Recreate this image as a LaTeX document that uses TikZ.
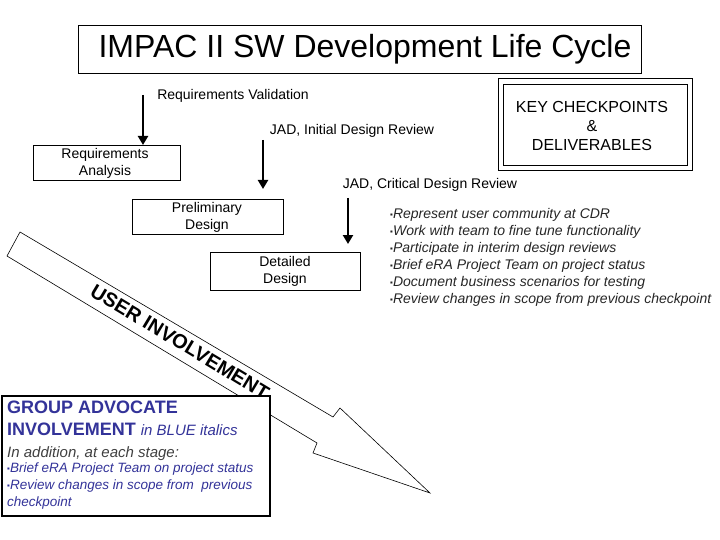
\documentclass[tikz,border=0pt]{standalone}
\usepackage{fontspec}
\setmainfont{Liberation Sans}
\usetikzlibrary{arrows.meta}
\definecolor{gablue}{RGB}{51,51,153}
\begin{document}
\begin{tikzpicture}[x=1pt,y=-1pt,
  box/.style={draw,fill=white,line width=0.8pt,inner sep=0pt},
  lab/.style={font=\fontsize{14}{17}\selectfont,inner sep=0pt},
  darr/.style={line width=2.5pt,-{Triangle[length=9pt,width=10pt]}},
  bl/.style={font=\fontsize{14}{17}\itshape\selectfont,inner sep=0pt,align=left,text=black!85}]
\useasboundingbox (0,0) rectangle (720,540);
% title
\draw[line width=0.8pt] (78,25) rectangle (641,73);
\node[inner sep=0pt,font=\fontsize{32}{34}\selectfont] (title) at (365,49) {IMPAC II SW Development Life Cycle};
% key checkpoints
\draw[line width=0.8pt] (498,78) rectangle (692,170);
\draw[line width=0.8pt] (503,84) rectangle (687,165);
\node[inner sep=0pt,align=center,font=\fontsize{16}{19}\selectfont] (key) at (592,126) {KEY CHECKPOINTS\\\&\\DELIVERABLES};
% big arrow
\draw[line width=0.6pt,fill=white] (20,232) -- (333,417) -- (340,408) -- (430,493) -- (313,453) -- (317,443) -- (7,256) -- cycle;
\node[rotate=-31,inner sep=0pt,font=\fontsize{20}{20}\bfseries\selectfont] (ui) at (180,342) {USER INVOLVEMENT};
% boxes
\draw[box] (33,145) rectangle (180,180);
\node[lab,align=center] (ra) at (105,163) {Requirements\\Analysis};
\draw[box] (132,199) rectangle (283,234);
\node[lab,align=center] (pd) at (207,217) {Preliminary\\Design};
\draw[box] (210,252) rectangle (360,290);
\node[lab,align=center] (dd) at (285,271) {Detailed\\Design};
% labels and arrows
\node[lab] (rv) at (233,96) {Requirements Validation};
\node[lab] (jad1) at (352,131) {JAD, Initial Design Review};
\node[lab] (jad2) at (430,185) {JAD, Critical Design Review};
\coordinate (a1) at (143,95); \coordinate (b1) at (143,145);
\coordinate (a2) at (263,140); \coordinate (b2) at (263,189);
\coordinate (a3) at (348,198); \coordinate (b3) at (348,244);
\draw[darr] (a1) -- (b1);
\draw[darr] (a2) -- (b2);
\draw[darr] (a3) -- (b3);
% bullet list
\node[bl,anchor=north west] (list) at (390,208) {%
{\fontsize{8}{8}\selectfont\raisebox{1pt}{▪}}Represent user community at CDR\\
{\fontsize{8}{8}\selectfont\raisebox{1pt}{▪}}Work with team to fine tune functionality\\
{\fontsize{8}{8}\selectfont\raisebox{1pt}{▪}}Participate in interim design reviews\\
{\fontsize{8}{8}\selectfont\raisebox{1pt}{▪}}Brief eRA Project Team on project status\\
{\fontsize{8}{8}\selectfont\raisebox{1pt}{▪}}Document business scenarios for testing\\
{\fontsize{8}{8}\selectfont\raisebox{1pt}{▪}}Review changes in scope from previous checkpoint};
% group advocate box
\draw[line width=2.5pt,fill=white] (2,396) rectangle (270,516);
\node[inner sep=0pt,anchor=north west,align=left,text=gablue,font=\fontsize{18}{22}\selectfont] (ga) at (7,401) {%
{\bfseries GROUP ADVOCATE}\\
{\bfseries INVOLVEMENT}\ {\fontsize{15}{22}\itshape\selectfont in BLUE italics}\\
{\fontsize{15}{22}\itshape\selectfont\color{black!75}In addition, at each stage:}};
\node[bl,anchor=north west,font=\fontsize{13.5}{17}\itshape\selectfont,text=gablue] (gl) at (7,463) {%
{\fontsize{8}{8}\selectfont\raisebox{1pt}{▪}}Brief eRA Project Team on project status\\
{\fontsize{8}{8}\selectfont\raisebox{1pt}{▪}}Review changes in scope from\ \ previous\\
checkpoint};
\end{tikzpicture}
\end{document}
